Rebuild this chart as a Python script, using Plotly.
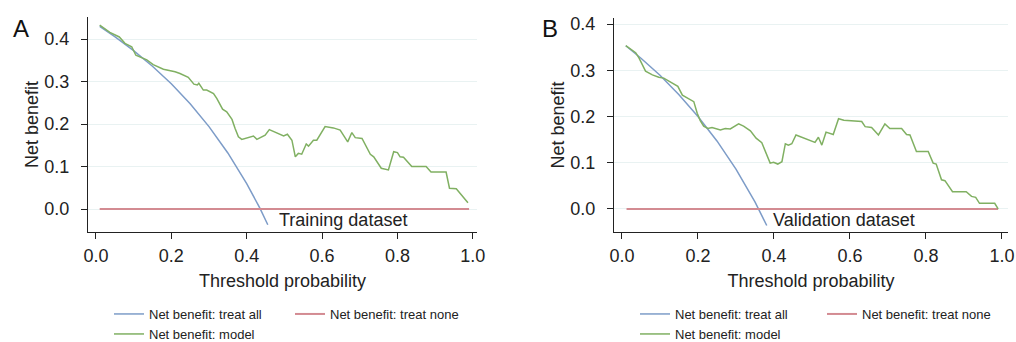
import plotly.graph_objects as go

# ---------------- data ----------------
# Panel A – Training dataset
a_all_x = [0.01, 0.05, 0.10, 0.15, 0.20, 0.25, 0.30, 0.35, 0.40, 0.435, 0.456]
a_all_y = [0.430, 0.406, 0.373, 0.336, 0.295, 0.248, 0.194, 0.132, 0.060, 0.002, -0.037]
a_none_x = [0.01, 0.99]
a_none_y = [0.0, 0.0]
a_model_x = [0.01, 0.037, 0.062, 0.077, 0.095, 0.106, 0.135, 0.152, 0.179, 0.201, 0.210,
             0.223, 0.245, 0.260, 0.269, 0.273, 0.285, 0.294, 0.312, 0.321, 0.336, 0.347,
             0.361, 0.369, 0.378, 0.387, 0.405, 0.418, 0.427, 0.449, 0.460, 0.480, 0.498,
             0.508, 0.520, 0.529, 0.537, 0.546, 0.558, 0.564, 0.577, 0.586, 0.608, 0.630,
             0.648, 0.668, 0.679, 0.688, 0.706, 0.728, 0.737, 0.757, 0.776, 0.790, 0.800,
             0.807, 0.816, 0.838, 0.876, 0.889, 0.929, 0.938, 0.956, 0.987]
a_model_y = [0.433, 0.416, 0.405, 0.390, 0.382, 0.362, 0.351, 0.340, 0.329, 0.325, 0.323,
             0.319, 0.310, 0.294, 0.292, 0.296, 0.280, 0.280, 0.272, 0.260, 0.235, 0.229,
             0.211, 0.190, 0.170, 0.164, 0.169, 0.172, 0.164, 0.174, 0.187, 0.180, 0.172,
             0.176, 0.162, 0.123, 0.131, 0.129, 0.153, 0.148, 0.162, 0.162, 0.194, 0.191,
             0.186, 0.158, 0.180, 0.168, 0.166, 0.129, 0.123, 0.096, 0.092, 0.135, 0.133,
             0.123, 0.122, 0.100, 0.100, 0.087, 0.087, 0.049, 0.048, 0.015]

# Panel B – Validation dataset
b_all_x = [0.01, 0.05, 0.10, 0.15, 0.20, 0.25, 0.30, 0.35, 0.381]
b_all_y = [0.353, 0.326, 0.289, 0.247, 0.200, 0.147, 0.086, 0.015, -0.036]
b_none_x = [0.012, 0.99]
b_none_y = [0.0, 0.0]
b_model_x = [0.01, 0.036, 0.045, 0.062, 0.080, 0.097, 0.110, 0.128, 0.147, 0.159, 0.176,
             0.189, 0.198, 0.206, 0.215, 0.226, 0.237, 0.259, 0.272, 0.285, 0.307, 0.320,
             0.338, 0.353, 0.368, 0.377, 0.390, 0.399, 0.410, 0.421, 0.430, 0.438, 0.447,
             0.458, 0.508, 0.517, 0.526, 0.537, 0.556, 0.570, 0.584, 0.631, 0.640, 0.657,
             0.675, 0.692, 0.705, 0.736, 0.749, 0.758, 0.775, 0.806, 0.819, 0.827, 0.841,
             0.850, 0.870, 0.906, 0.920, 0.931, 0.941, 0.981, 0.990]
b_model_y = [0.353, 0.338, 0.326, 0.298, 0.290, 0.285, 0.283, 0.275, 0.265, 0.246, 0.239,
             0.232, 0.207, 0.191, 0.179, 0.174, 0.176, 0.171, 0.174, 0.173, 0.184, 0.179,
             0.169, 0.153, 0.143, 0.124, 0.099, 0.101, 0.097, 0.102, 0.141, 0.138, 0.141,
             0.160, 0.144, 0.155, 0.138, 0.166, 0.161, 0.195, 0.192, 0.189, 0.178, 0.176,
             0.160, 0.184, 0.174, 0.174, 0.161, 0.160, 0.124, 0.124, 0.099, 0.097, 0.063,
             0.061, 0.037, 0.037, 0.027, 0.025, 0.012, 0.012, 0.000]

tick_vals_x = [0.0, 0.2, 0.4, 0.6, 0.8, 1.0]
tick_text_x = ["0.0", "0.2", "0.4", "0.6", "0.8", "1.0"]
tick_vals_y = [0.0, 0.1, 0.2, 0.3, 0.4]
tick_text_y = ["0.0", "0.1", "0.2", "0.3", "0.4"]

names = ["Net benefit: treat all", "Net benefit: treat none", "Net benefit: model"]
panel_labels = ["A", "B"]
dataset_labels = ["Training dataset", "Validation dataset"]

# ---------------- style ----------------
C_ALL = "#7d9cc8"
C_NONE = "#d38b92"
C_MODEL = "#80b062"
FONT = "Liberation Sans, Arial, Helvetica, sans-serif"
TXT = "#222222"
W, H = 1016, 342

fig = go.Figure()

panels = [
    dict(all=(a_all_x, a_all_y), none=(a_none_x, a_none_y), model=(a_model_x, a_model_y),
         xa="x", ya="y", legs=("legend", "legend2")),
    dict(all=(b_all_x, b_all_y), none=(b_none_x, b_none_y), model=(b_model_x, b_model_y),
         xa="x2", ya="y2", legs=("legend3", "legend4")),
]

for p in panels:
    fig.add_trace(go.Scatter(x=p["all"][0], y=p["all"][1], mode="lines", name=names[0],
                             line=dict(color=C_ALL, width=1.5), xaxis=p["xa"], yaxis=p["ya"],
                             legend=p["legs"][0]))
    fig.add_trace(go.Scatter(x=p["none"][0], y=p["none"][1], mode="lines", name=names[1],
                             line=dict(color=C_NONE, width=2), xaxis=p["xa"], yaxis=p["ya"],
                             legend=p["legs"][0]))
    fig.add_trace(go.Scatter(x=p["model"][0], y=p["model"][1], mode="lines", name=names[2],
                             line=dict(color=C_MODEL, width=1.5), xaxis=p["xa"], yaxis=p["ya"],
                             legend=p["legs"][1]))

def xaxis(domain, rng, anchor):
    return dict(domain=domain, range=rng, anchor=anchor, showline=True, linecolor="#222",
                linewidth=1.2, ticks="outside", ticklen=6, tickcolor="#222", tickwidth=1,
                tickvals=tick_vals_x, ticktext=tick_text_x, showgrid=False, zeroline=False,
                ticklabelstandoff=1, automargin=False, ticklabeloverflow="allow",
                tickfont=dict(family=FONT, size=18, color=TXT),
                title=dict(text="Threshold probability", font=dict(family=FONT, size=18, color=TXT),
                           standoff=9))

def yaxis(domain, rng, anchor):
    return dict(domain=domain, range=rng, anchor=anchor, showline=True, linecolor="#222",
                linewidth=1.2, ticks="outside", ticklen=6, tickcolor="#222", tickwidth=1,
                tickvals=tick_vals_y, ticktext=tick_text_y, showgrid=True,
                gridcolor="#e9f2f2", gridwidth=1, zeroline=False,
                ticklabelstandoff=8, automargin=False, ticklabeloverflow="allow",
                tickfont=dict(family=FONT, size=18, color=TXT),
                title=dict(text="Net benefit", font=dict(family=FONT, size=18, color=TXT),
                           standoff=0))

leg_common = dict(orientation="h", xanchor="left", yanchor="top", bgcolor="rgba(0,0,0,0)",
                  borderwidth=0, font=dict(family=FONT, size=13, color=TXT),
                  entrywidthmode="pixels", tracegroupgap=0, itemclick=False)

fig.update_layout(
    width=W, height=H, margin=dict(l=0, r=0, t=0, b=0, autoexpand=False),
    paper_bgcolor="white", plot_bgcolor="white",
    font=dict(family=FONT, color=TXT),
    xaxis=xaxis([88 / W, 477 / W], [-0.021, 1.011], "y"),
    yaxis=yaxis([1 - 232 / H, 1 - 17 / H], [-0.054, 0.452], "x"),
    xaxis2=xaxis([614 / W, 1008 / W], [-0.021, 1.016], "y2"),
    yaxis2=yaxis([1 - 232 / H, 1 - 18 / H], [-0.050, 0.413], "x2"),
    legend=dict(leg_common, x=109 / W, y=1 - 299 / H, entrywidth=136),
    legend2=dict(leg_common, x=109 / W, y=1 - 319 / H, entrywidth=136),
    legend3=dict(leg_common, x=635 / W, y=1 - 299 / H, entrywidth=142),
    legend4=dict(leg_common, x=635 / W, y=1 - 319 / H, entrywidth=142),
    showlegend=True,
)

# panel letters
for lab, px in zip(panel_labels, [21, 550]):
    fig.add_annotation(text=lab, x=px / W, y=1 - 29 / H, xref="paper", yref="paper",
                       xanchor="center", yanchor="middle", showarrow=False,
                       font=dict(family=FONT, size=24, color="#111"))

# dataset labels
fig.add_annotation(text=dataset_labels[0], x=0.481, y=-0.026, xref="x", yref="y",
                   xanchor="left", yanchor="middle", showarrow=False,
                   font=dict(family=FONT, size=18, color=TXT))
fig.add_annotation(text=dataset_labels[1], x=0.391, y=-0.024, xref="x2", yref="y2",
                   xanchor="left", yanchor="middle", showarrow=False,
                   font=dict(family=FONT, size=18, color=TXT))

fig.write_html("out.html")
